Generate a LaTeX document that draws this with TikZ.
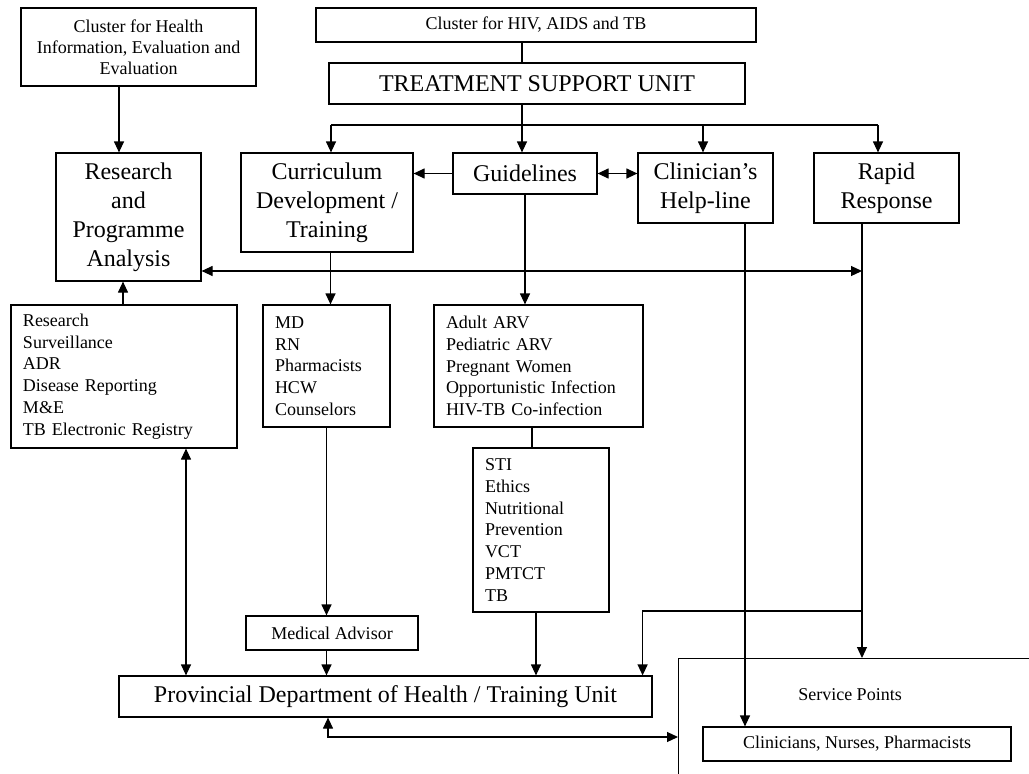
\documentclass[tikz,border=0pt]{standalone}
\usepackage{fontspec}
\setmainfont{Liberation Serif}
\usetikzlibrary{arrows.meta}

\tikzset{
  unitbox/.style={draw,inner sep=0pt,align=center,font=\fontsize{24}{29}\selectfont},
  smallbox/.style={draw,inner sep=0pt,align=center,font=\fontsize{18}{21}\selectfont},
  listbox/.style={draw,inner xsep=12pt,inner ysep=0pt,align=left,font=\fontsize{18}{21.7}\selectfont},
}

\begin{document}
\begin{tikzpicture}[x=1pt,y=-1pt,line width=1.2pt,>={Triangle[length=11pt,width=10pt]}]
\useasboundingbox (0,0) rectangle (1029,774);

\node[smallbox,minimum width=235pt,minimum height=78pt] (health) at (138.5,47) {Cluster for Health\\Information, Evaluation and\\Evaluation};
\node[smallbox,minimum width=440pt,minimum height=34pt] (hiv) at (536,25) {Cluster for HIV, AIDS and TB};
\node[unitbox,minimum width=416pt,minimum height=41pt] (tsu) at (537,83.5) {TREATMENT SUPPORT UNIT};

\node[unitbox,minimum width=145pt,minimum height=128pt] (rpa) at (128.5,217) {Research\\and\\Programme\\Analysis};
\node[unitbox,minimum width=172pt,minimum height=99pt] (cdt) at (327,202.5) {Curriculum\\Development /\\Training};
\node[unitbox,minimum width=144pt,minimum height=41pt] (guide) at (525,173.5) {Guidelines};
\node[unitbox,minimum width=135pt,minimum height=70pt] (help) at (705.5,188) {Clinician’s\\Help-line};
\node[unitbox,minimum width=145pt,minimum height=70pt] (rapid) at (886.5,188) {Rapid\\Response};

\node[listbox,text width=202pt,minimum height=143pt] (rlist) at (124,376.5) {Research\\Surveillance\\ADR\\Disease Reporting\\M\&E\\TB Electronic Registry};
\node[listbox,text width=103pt,minimum height=122pt] (mdlist) at (326.5,366) {MD\\RN\\Pharmacists\\HCW\\Counselors};
\node[listbox,text width=185pt,minimum height=122pt] (arv) at (538.5,366) {Adult ARV\\Pediatric ARV\\Pregnant Women\\Opportunistic Infection\\HIV-TB Co-infection};
\node[listbox,text width=112pt,minimum height=164pt] (sti) at (541,530) {STI\\Ethics\\Nutritional\\Prevention\\VCT\\PMTCT\\TB};

\node[smallbox,minimum width=172pt,minimum height=34pt] (medadv) at (332,633) {Medical Advisor};
\node[unitbox,minimum width=533pt,minimum height=41pt] (prov) at (385.5,696.5) {Provincial Department of Health / Training Unit};
\node[draw,minimum width=400pt,minimum height=150pt,anchor=north west] (service) at (678,658) {};
\node[smallbox,draw=none] (sptext) at (850,695) {Service Points};
\node[smallbox,minimum width=308pt,minimum height=34pt] (clin) at (857,744) {Clinicians, Nurses, Pharmacists};

\coordinate (bar) at (522,125);
\coordinate (barl) at (331,125);
\coordinate (hbar) at (0,271);
\coordinate (branch) at (0,611);
\coordinate (pbar) at (0,737);
\coordinate (rr) at ([xshift=-24.5pt]rapid.south);

\draw (hiv.south -| bar) -- (tsu.north -| bar);
\draw (tsu.south -| bar) -- (bar);
\draw (barl) -- ([xshift=-8.5pt]rapid.north |- bar);
\draw[->] (barl) -- (barl |- cdt.north);
\draw[->] (bar) -- (bar |- guide.north);
\draw[->] ([xshift=-2.5pt]help.north |- bar) -- ([xshift=-2.5pt]help.north);
\draw[->] ([xshift=-8.5pt]rapid.north |- bar) -- ([xshift=-8.5pt]rapid.north);

\draw[->] ([xshift=-19.5pt]health.south) -- ([xshift=-9.5pt]rpa.north);
\draw[->] (guide.west) -- (guide.west -| cdt.east);
\draw[<->] (guide.east) -- (guide.east -| help.west);
\draw[<->] (rpa.east |- hbar) -- (rr |- hbar);

\draw[->] ([xshift=-1pt]rlist.north) -- ([xshift=-1pt]rlist.north |- rpa.south);
\draw[->] ([xshift=3.5pt]cdt.south) -- ([xshift=3.5pt]cdt.south |- mdlist.north);
\draw[->] (guide.south) -- (guide.south |- arv.north);
\draw ([xshift=-6.5pt]arv.south) -- ([xshift=-6.5pt]arv.south |- sti.north);

\draw[->] (mdlist.south) -- (mdlist.south |- medadv.north);
\draw[->] (medadv.south -| mdlist.south) -- (prov.north -| mdlist.south);
\draw[->] ([xshift=-5pt]sti.south) -- ([xshift=-5pt]sti.south |- prov.north);
\draw[<->] ([xshift=62pt]rlist.south) -- ([xshift=62pt]rlist.south |- prov.north);

\draw[->] (rr) -- (rr |- service.north);
\draw[->] (rr |- branch) -| ([xshift=-10pt]prov.north east);
\draw[->] ([xshift=39.5pt]help.south) -- ([xshift=39.5pt]help.south |- clin.north);
\draw[<->] ([xshift=-57.5pt]prov.south) |- (service.west |- pbar);
\end{tikzpicture}
\end{document}
